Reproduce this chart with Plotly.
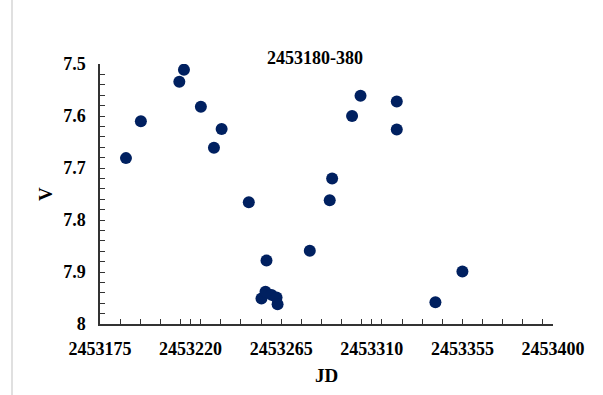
import plotly.graph_objects as go

# Photometry: Julian Date vs V magnitude
jd = [2453187.9, 2453195.3, 2453214.4, 2453216.7, 2453225.1, 2453231.6, 2453235.4,
      2453248.9, 2453257.7, 2453255.2, 2453257.2, 2453260.2, 2453262.7, 2453263.2,
      2453279.2, 2453289.1, 2453290.3, 2453300.2, 2453304.4, 2453322.4, 2453322.4,
      2453341.6, 2453355.0]
vmag = [7.681, 7.610, 7.534, 7.511, 7.582, 7.661, 7.625,
        7.766, 7.878, 7.951, 7.938, 7.944, 7.949, 7.962,
        7.859, 7.762, 7.720, 7.600, 7.561, 7.572, 7.626,
        7.958, 7.899]

x_ticks = [2453175, 2453220, 2453265, 2453310, 2453355, 2453400]
y_ticks = [7.5, 7.6, 7.7, 7.8, 7.9, 8.0]
y_tick_labels = ["7.5", "7.6", "7.7", "7.8", "7.9", "8"]

title_text = "2453180-380"
x_title = "JD"
y_title = "V"

font_family = "Liberation Serif, Times New Roman, serif"
axis_color = "#333333"

fig = go.Figure(
    go.Scatter(
        x=jd, y=vmag, mode="markers",
        marker=dict(size=12, color="#002060", line=dict(width=0)),
        showlegend=False,
    )
)

fig.update_layout(
    width=603, height=395,
    margin=dict(l=100, r=50, t=64, b=71, autoexpand=False),
    paper_bgcolor="white", plot_bgcolor="white",
    font=dict(family=font_family, color="black"),
    title=dict(text=f"<b>{title_text}</b>", x=315 / 603, xanchor="center",
               y=1 - 58 / 395, yanchor="middle",
               font=dict(size=18, family=font_family, color="black")),
    shapes=[dict(type="line", xref="paper", yref="paper",
                 x0=-88 / 453, x1=-88 / 453, y0=-1, y1=2,
                 line=dict(color="#e0e0e0", width=2))],
)

fig.update_xaxes(
    range=[2453175, 2453400],
    tickvals=x_ticks, ticktext=[str(v) for v in x_ticks],
    showgrid=False, zeroline=False, automargin=False,
    showline=True, linecolor=axis_color, linewidth=1.5,
    ticks="inside", ticklen=5, tickwidth=1, tickcolor=axis_color,
    minor=dict(tick0=2453175, dtick=10, ticks="inside", ticklen=5,
               tickwidth=1, tickcolor=axis_color, showgrid=False),
    tickfont=dict(size=18, family=font_family, color="black", weight="bold"),
    ticklabelstandoff=8,
    title=dict(text=f"<b>{x_title}</b>", standoff=10,
               font=dict(size=19, family=font_family, color="black")),
)

fig.update_yaxes(
    range=[8.0, 7.5],
    tickvals=y_ticks, ticktext=y_tick_labels,
    showgrid=False, zeroline=False, automargin=False,
    showline=True, linecolor=axis_color, linewidth=1.5,
    ticks="inside", ticklen=5, tickwidth=1, tickcolor=axis_color,
    minor=dict(tick0=7.5, dtick=0.02, ticks="inside", ticklen=5,
               tickwidth=1, tickcolor=axis_color, showgrid=False),
    tickfont=dict(size=18, family=font_family, color="black", weight="bold"),
    ticklabelstandoff=9,
    title=dict(text=f"<b>{y_title}</b>", standoff=6,
               font=dict(size=19, family=font_family, color="black")),
)

fig.write_html("out.html")
